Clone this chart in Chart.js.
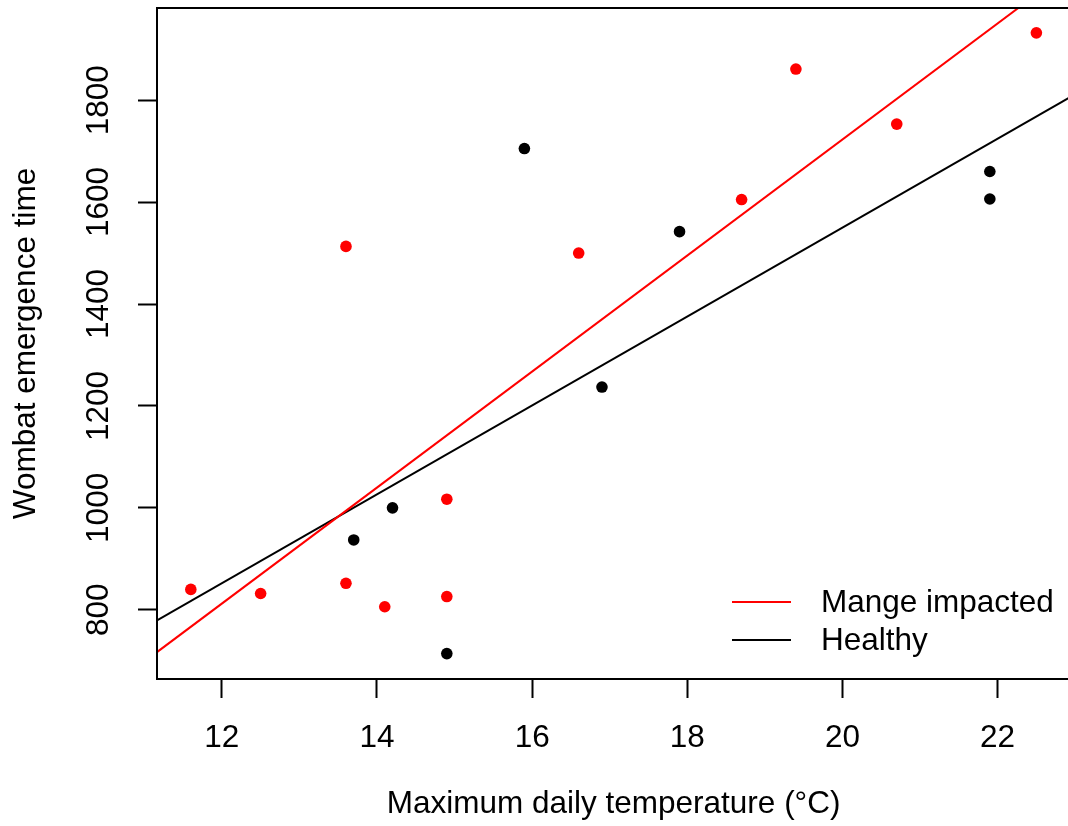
<!DOCTYPE html>
<html>
<head>
<meta charset="utf-8">
<script src="https://cdn.jsdelivr.net/npm/chart.js@4/dist/chart.umd.min.js"></script>
<style>
    html, body { margin: 0; padding: 0; background: #fff; overflow: hidden; }
    canvas { display: block; }
</style>
</head>
<body>
<canvas id="wombatChart" width="1076" height="826"></canvas>
<script>
// mange impacted wombats
const mangeTemp = [11.6, 12.5, 13.6, 13.6, 14.1, 14.9, 14.9, 16.6, 18.7, 19.4, 20.7, 22.5];
const mangeTime = [840, 832, 852, 1513, 806, 1017, 826, 1500, 1605, 1861, 1753, 1932];

// healthy wombats
const healthyTemp = [13.7, 14.2, 14.9, 15.9, 16.9, 17.9, 21.9, 21.9];
const healthyTime = [937, 1000, 714, 1705, 1237, 1542, 1660, 1606];

// fitted lines, read at the two ends of the x range
const fitTemp = [11.164, 22.936];
const mangeFit = [717, 2057];
const healthyFit = [779, 1806];

const xTicks = [12, 14, 16, 18, 20, 22];
const yTicks = [800, 1000, 1200, 1400, 1600, 1800];
const legendLabels = ["Mange impacted", "Healthy"];
const legendColors = ["#ff0000", "#000000"];

const FONT = {family: "'Liberation Sans', Arial, sans-serif", size: 31.5};

function toPoints(xs, ys) {
    return xs.map((x, i) => ({x: x, y: ys[i]}));
}

const boxAndLegend = {
    id: "boxAndLegend",
    afterDraw(chart) {
        const ctx = chart.ctx;
        const area = chart.chartArea;
        ctx.save();
        ctx.strokeStyle = "#000";
        ctx.lineWidth = 2;
        ctx.strokeRect(area.left, area.top, area.right - area.left, area.bottom - area.top);

        // legend, bottom right, no frame
        ctx.font = FONT.size + "px " + FONT.family;
        ctx.textBaseline = "middle";
        ctx.textAlign = "left";
        legendLabels.forEach((label, i) => {
            const y = area.bottom - 77 + i * 38;
            ctx.strokeStyle = legendColors[i];
            ctx.beginPath();
            ctx.moveTo(area.left + 575, y);
            ctx.lineTo(area.left + 634, y);
            ctx.stroke();
            ctx.fillStyle = "#000";
            ctx.fillText(label, area.left + 664, y + 1);
        });
        ctx.restore();
    }
};

new Chart("wombatChart", {
    type: "scatter",
    data: {
        datasets: [
            {
                label: "Mange impacted",
                data: toPoints(mangeTemp, mangeTime),
                backgroundColor: "#ff0000",
                borderWidth: 0,
                pointRadius: 5.8
            },
            {
                label: "Healthy",
                data: toPoints(healthyTemp, healthyTime),
                backgroundColor: "#000000",
                borderWidth: 0,
                pointRadius: 5.8
            },
            {
                label: "Mange fit",
                data: toPoints(fitTemp, mangeFit),
                showLine: true,
                borderColor: "#ff0000",
                borderWidth: 2,
                pointRadius: 0,
                clip: 0
            },
            {
                label: "Healthy fit",
                data: toPoints(fitTemp, healthyFit),
                showLine: true,
                borderColor: "#000000",
                borderWidth: 2,
                pointRadius: 0,
                clip: 0
            }
        ]
    },
    options: {
        responsive: false,
        animation: false,
        devicePixelRatio: 1,
        layout: {padding: {left: 0, right: 4, top: 8, bottom: 0}},
        plugins: {
            legend: {display: false},
            tooltip: {enabled: false}
        },
        scales: {
            x: {
                type: "linear",
                min: 11.164,
                max: 22.936,
                afterBuildTicks: scale => { scale.ticks = xTicks.map(v => ({value: v})); },
                afterFit: scale => {
                    scale.height = 147;
                    scale.paddingLeft = 0;
                    scale.paddingRight = 0;
                },
                grid: {drawOnChartArea: false, tickLength: 19, tickWidth: 2, tickColor: "#000"},
                border: {color: "#000", width: 2},
                ticks: {
                    color: "#000", font: FONT, padding: 21, maxRotation: 0, minRotation: 0,
                    callback: v => String(v)
                },
                title: {
                    display: true,
                    text: "Maximum daily temperature (°C)",
                    color: "#000",
                    font: FONT,
                    padding: {top: 0, bottom: 3}
                }
            },
            y: {
                type: "linear",
                min: 664.2,
                max: 1980.8,
                afterBuildTicks: scale => { scale.ticks = yTicks.map(v => ({value: v})); },
                afterFit: scale => {
                    scale.width = 157;
                    scale.paddingTop = 0;
                    scale.paddingBottom = 0;
                },
                grid: {drawOnChartArea: false, tickLength: 19, tickWidth: 2, tickColor: "#000"},
                border: {color: "#000", width: 2},
                ticks: {
                    color: "#000", font: FONT, padding: 3.5, minRotation: 90, maxRotation: 90,
                    crossAlign: "center", callback: v => String(v)
                },
                title: {
                    display: true,
                    text: "Wombat emergence time",
                    color: "#000",
                    font: FONT,
                    padding: {top: 7, bottom: 0}
                }
            }
        }
    },
    plugins: [boxAndLegend]
});
</script>
</body>
</html>
